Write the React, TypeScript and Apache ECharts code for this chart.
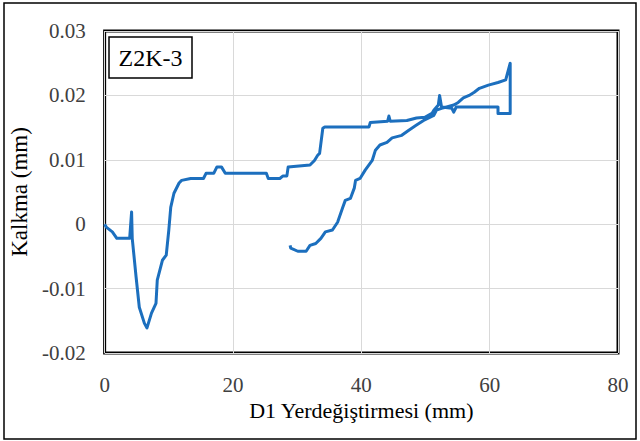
import React, { useEffect, useRef } from "react";
import * as echarts from "echarts";

// D1 displacement (mm)
const dispX: number[] = [
  0, 0.3, 1.2, 1.9, 3.9, 4.2, 4.3, 4.9, 5.4, 6.2, 6.6, 7.3, 8.0, 8.2, 9.0, 9.6, 10.0, 10.3, 10.8, 11.6,
  12.0, 13.4, 15.4, 15.8, 17.0, 17.5, 18.2, 18.8, 25.2, 25.5, 27.3, 27.8, 28.4, 28.6, 32.0, 32.7, 33.2, 33.5,
  34.0, 34.3, 41.2, 41.4, 44.1, 44.3, 44.5, 47.1, 48.6, 49.9, 51.0, 51.3, 52.0, 52.2, 52.5, 54.1, 54.4, 54.8,
  61.3, 61.3, 63.2, 63.2, 62.5, 61.3, 59.8, 58.4, 57.6, 56.8, 55.9, 55.1, 54.4, 53.3, 52.5, 51.7, 51.3, 49.7,
  48.6, 47.4, 46.3, 44.8, 44.0, 42.9, 42.2, 41.7, 40.6, 39.8, 39.1, 38.9, 38.3, 37.5, 37.1, 36.3, 35.5, 34.4,
  33.7, 32.9, 32.0, 31.4, 30.1, 29.0, 28.9,
];

// Uplift (mm)
const upliftY: number[] = [
  0, -0.0005, -0.0012, -0.0022, -0.0022, 0.0019, -0.0022, -0.0082, -0.0129, -0.0154, -0.0161, -0.0138,
  -0.0123, -0.0087, -0.0056, -0.0048, -0.0009, 0.0026, 0.0048, 0.0064,
  0.0068, 0.0071, 0.0071, 0.0079, 0.0079, 0.0089, 0.0089, 0.0079, 0.0079, 0.0071, 0.0071, 0.0075, 0.0075,
  0.0089, 0.0092, 0.0099, 0.0107, 0.011,
  0.0149, 0.0151, 0.0151, 0.0158, 0.016, 0.0168, 0.016, 0.0161, 0.0165, 0.0166, 0.0172, 0.0177, 0.0185,
  0.02, 0.0182, 0.018, 0.0174, 0.0182,
  0.0182, 0.0172, 0.0172, 0.025, 0.0224, 0.022, 0.0216, 0.0211, 0.0205, 0.02, 0.0196, 0.0189, 0.0185,
  0.0182, 0.018, 0.0177, 0.0169, 0.0161,
  0.0154, 0.0146, 0.0138, 0.0134, 0.0127, 0.0123, 0.0115, 0.0099, 0.0084, 0.0071, 0.0068, 0.0056, 0.004,
  0.0037, 0.0026, 0.0003, -0.0009, -0.0012,
  -0.0022, -0.003, -0.0033, -0.0042, -0.0042, -0.0037, -0.0033,
];

const xTicks = { min: 0, max: 80, interval: 20 };
const yTicks = { min: -0.02, max: 0.03, interval: 0.01 };
const specimenLabel = "Z2K-3";
const xTitle = "D1 Yerdeğiştirmesi (mm)";
const yTitle = "Kalkma (mm)";

const SERIF = "Liberation Serif";

export default function App() {
  const ref = useRef<HTMLDivElement>(null);

  useEffect(() => {
    if (!ref.current) return;
    const chart = echarts.init(ref.current, undefined, { renderer: "svg" });
    const data = dispX.map((x, i) => [x, upliftY[i]]);
    chart.setOption({
      animation: false,
      backgroundColor: "#fff",
      textStyle: { fontFamily: SERIF },
      grid: {
        left: 100,
        right: 22,
        top: 31,
        bottom: 88,
        show: true,
        borderColor: "#000",
        borderWidth: 3,
        backgroundColor: "transparent",
      },
      xAxis: {
        type: "value",
        min: xTicks.min,
        max: xTicks.max,
        interval: xTicks.interval,
        name: xTitle,
        nameLocation: "middle",
        nameGap: 41,
        nameTextStyle: { fontFamily: SERIF, fontSize: 22, color: "#000" },
        axisLine: { show: false },
        axisTick: { show: false },
        axisLabel: { fontFamily: SERIF, fontSize: 21, color: "#404040", margin: 21 },
        splitLine: { show: true, lineStyle: { color: "#d9d9d9", width: 1 } },
      },
      yAxis: {
        type: "value",
        min: yTicks.min,
        max: yTicks.max,
        interval: yTicks.interval,
        name: yTitle,
        nameLocation: "middle",
        nameGap: 69,
        nameRotate: 90,
        nameTextStyle: { fontFamily: SERIF, fontSize: 23, color: "#000" },
        axisLine: { show: false },
        axisTick: { show: false },
        axisLabel: {
          fontFamily: SERIF,
          fontSize: 21,
          color: "#404040",
          margin: 19,
          formatter: (v: number) => String(Number(v.toFixed(2))),
        },
        splitLine: { show: true, lineStyle: { color: "#d9d9d9", width: 1 } },
      },
      series: [
        {
          type: "line",
          data,
          showSymbol: false,
          symbol: "none",
          lineStyle: { color: "#1c6fbe", width: 3, join: "round" },
          z: 3,
        },
      ],
      graphic: [
        {
          type: "rect",
          shape: { x: 4, y: 3, width: 632, height: 436 },
          style: { fill: "none", stroke: "#000", lineWidth: 1.5 },
          silent: true,
          z: 10,
        },
        {
          type: "rect",
          shape: { x: 109, y: 37, width: 83, height: 41 },
          style: { fill: "#fff", stroke: "#000", lineWidth: 1.5 },
          z: 10,
        },
        {
          type: "text",
          x: 150.5,
          y: 57.5,
          style: {
            text: specimenLabel,
            fontFamily: SERIF,
            fontSize: 24,
            fill: "#000",
            align: "center",
            verticalAlign: "middle",
          },
          z: 11,
        },
      ],
    });
    return () => chart.dispose();
  }, []);

  return (
    <div
      ref={ref}
      style={{ position: "absolute", left: 0, top: 0, width: 640, height: 441 }}
    />
  );
}
